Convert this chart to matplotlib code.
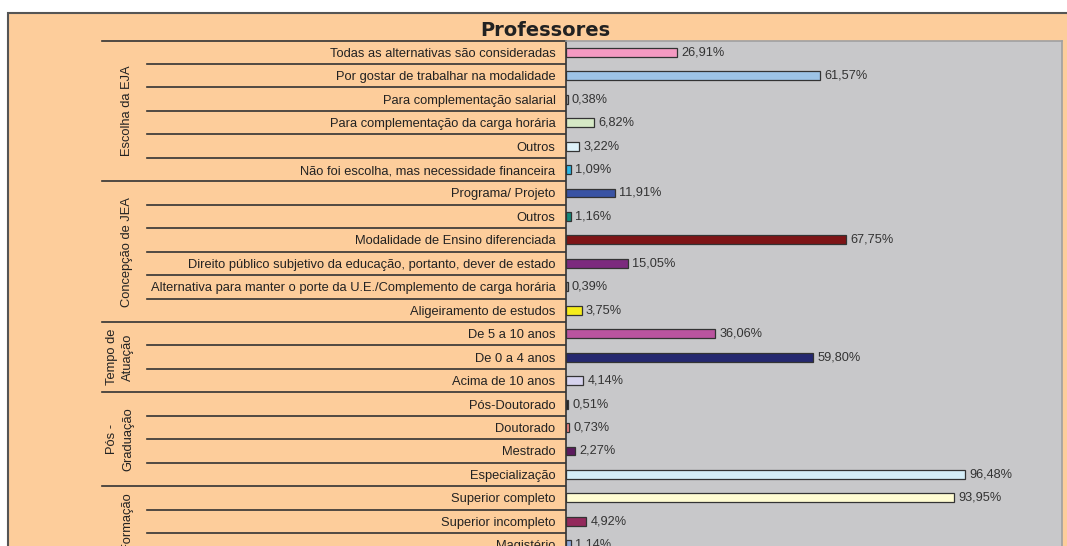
import matplotlib
matplotlib.use("Agg")
import matplotlib.pyplot as plt
from matplotlib import transforms
from matplotlib.patches import Rectangle

# ---------------- data ----------------
categories = [
    "Todas as alternativas são consideradas",
    "Por gostar de trabalhar na modalidade",
    "Para complementação salarial",
    "Para complementação da carga horária",
    "Outros",
    "Não foi escolha, mas necessidade financeira",
    "Programa/ Projeto",
    "Outros",
    "Modalidade de Ensino diferenciada",
    "Direito público subjetivo da educação, portanto, dever de estado",
    "Alternativa para manter o porte da U.E./Complemento de carga horária",
    "Aligeiramento de estudos",
    "De 5 a 10 anos",
    "De 0 a 4 anos",
    "Acima de 10 anos",
    "Pós-Doutorado",
    "Doutorado",
    "Mestrado",
    "Especialização",
    "Superior completo",
    "Superior incompleto",
    "Magistério",
]
values = [26.91, 61.57, 0.38, 6.82, 3.22, 1.09,
          11.91, 1.16, 67.75, 15.05, 0.39, 3.75,
          36.06, 59.80, 4.14,
          0.51, 0.73, 2.27, 96.48,
          93.95, 4.92, 1.14]
groups = ["Escolha da EJA", "Concepção de JEA", "Tempo de\nAtuação",
          "Pós -\nGraduação", "Formação"]
group_sizes = [6, 6, 3, 4, 3]
title = "Professores"

# ---------------- styles ----------------
bar_colors = ["#F49AC2", "#9DC3E6", "#B0B0B0", "#D6E9C6", "#DDF1F9", "#2EB8E6",
              "#3953A4", "#138A7A", "#7E1416", "#7C2A7E", "#A0A0A0", "#F5EC1A",
              "#BA549F", "#25286F", "#D6D3EE",
              "#222222", "#F08080", "#5C1A5E", "#D4EDF7",
              "#FFFCD2", "#93295C", "#8FA8D8"]
ORANGE = "#FDCD9B"
PLOTGRAY = "#C8C8CA"
TXT = "#222222"
LBLFONT = ["Liberation Sans", "DejaVu Sans"]

W, H = 1067, 546
fig = plt.figure(figsize=(W / 100, H / 100), dpi=100, facecolor="white")

# background axes in pixel coordinates
bg = fig.add_axes([0, 0, 1, 1], zorder=0)
bg.set_xlim(0, W)
bg.set_ylim(H, 0)
bg.axis("off")
bg.add_patch(Rectangle((8, 12.5), W + 20, H + 20, facecolor=ORANGE,
                       edgecolor="#555555", linewidth=1.5))
bg.text(545, 30, title, ha="center", va="center", fontsize=14,
        fontweight="bold", color=TXT, family="DejaVu Sans")

# main axes
left_px, right_px, top_px = 566, 1062, 40.5
ax = fig.add_axes([left_px / W, 0, (right_px - left_px) / W, (H - top_px) / H],
                  zorder=1)
ax.set_facecolor(PLOTGRAY)
n = len(categories)
ypos = list(range(n))
ax.barh(ypos, values, height=0.38, color=bar_colors, edgecolor="#333333",
        linewidth=0.9, zorder=3)
for y, v in zip(ypos, values):
    ax.annotate(f"{v:.2f}%".replace(".", ","), (v, y), xytext=(3, 0),
                textcoords="offset points", ha="left", va="center",
                fontsize=9.2, color="#333333", family=LBLFONT,
                annotation_clip=False)
ax.set_xlim(0, 120)
ax.set_ylim(21.05, -0.5)
ax.set_xticks([])
ax.set_yticks(ypos)
ax.set_yticklabels(categories, fontsize=9.3, color=TXT, family=LBLFONT)
ax.tick_params(axis="y", length=0, pad=7.5)
for s in ["top", "right"]:
    ax.spines[s].set_color("#A0A0A0")
    ax.spines[s].set_linewidth(1.2)
ax.spines["bottom"].set_visible(False)
ax.spines["left"].set_color("#333333")
ax.spines["left"].set_linewidth(1.2)

# category-axis separator lines and group labels
tr = transforms.blended_transform_factory(bg.transData, ax.transData)
start = 0
bg.plot([102, left_px], [-0.5, -0.5], color="#333333", lw=1.2,
        transform=tr, clip_on=False)
for g, size in zip(groups, group_sizes):
    for k in range(start, start + size - 1):
        bg.plot([147, left_px], [k + 0.5, k + 0.5], color="#333333", lw=1.2,
                transform=tr, clip_on=False)
    end = start + size - 1
    bg.plot([102, left_px], [end + 0.5, end + 0.5], color="#333333", lw=1.2,
            transform=tr, clip_on=False)
    xc = 120 if "\n" in g else 127
    bg.text(xc, (start + end) / 2, g, rotation=90, ha="center", va="center",
            fontsize=9.3, color=TXT, family=LBLFONT, transform=tr,
            linespacing=1.45, multialignment="center")
    start += size

fig.savefig("out.png", dpi=100, facecolor="white")
